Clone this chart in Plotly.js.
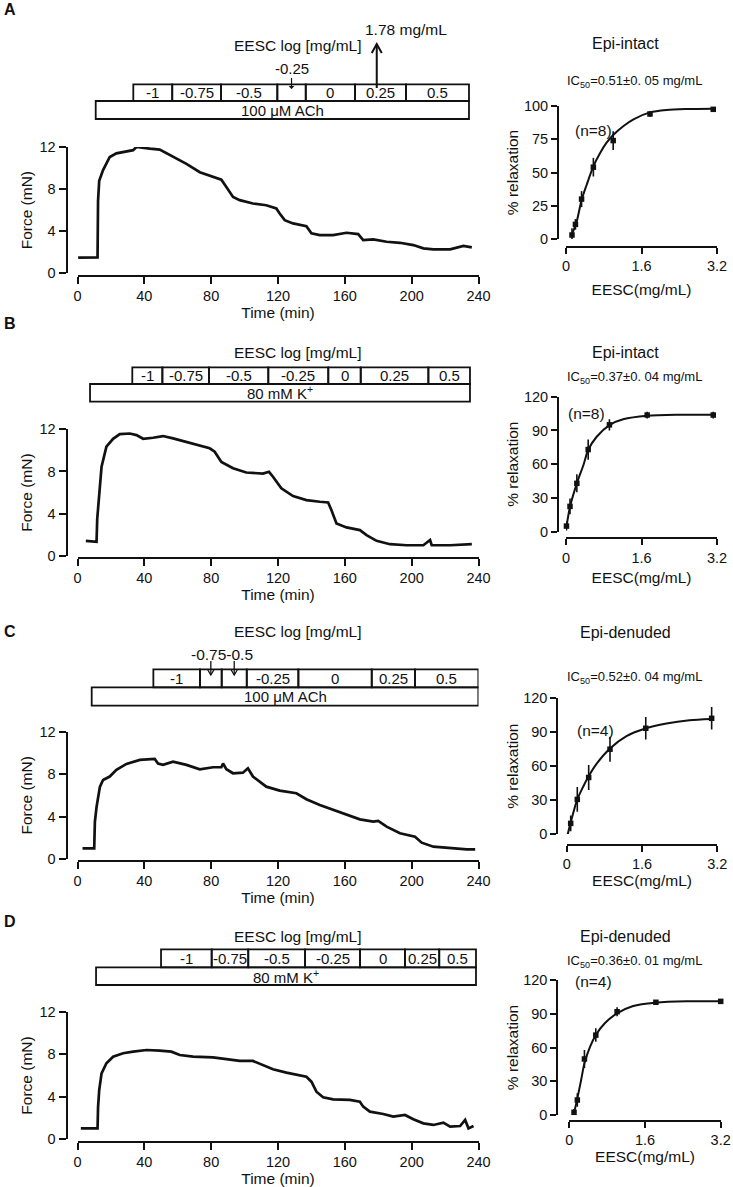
<!DOCTYPE html>
<html><head><meta charset="utf-8">
<script src="https://cdn.plot.ly/plotly-3.0.1.min.js"></script>
<style>html,body{margin:0;padding:0;background:#fff}</style>
</head><body><div id="chart" style="width:733px;height:1187px"></div>
<script>
// ---------- DATA ----------
const timeTicks = [0, 40, 80, 120, 160, 200, 240];
const forceTicks = [0, 4, 8, 12];
const eescTicks = [0, 1.6, 3.2];
const relaxTicksA = [0, 25, 50, 75, 100];
const relaxTicks = [0, 30, 60, 90, 120];

const timeA = [0.4,12,12.3,13,15.3,19.3,23.3,29.3,33.3,35.3,37.3,43.3,49.2,57.2,65.2,73.2,81.1,86.1,89.1,93.1,97.1,105,113,119,121,124,129,137,140,145,153,161,168,171,177,185,193,201,207,213,223,231,236];
const forceA = [1.48,1.5,6.9,8.8,9.8,11.05,11.4,11.6,11.7,12.0,11.95,11.84,11.75,11.05,10.4,9.6,9.16,8.9,8.2,7.26,6.95,6.63,6.47,6.16,5.68,5.05,4.74,4.48,3.8,3.63,3.63,3.85,3.73,3.16,3.22,3.0,2.9,2.68,2.37,2.27,2.27,2.6,2.46];
const timeB = [5,11.4,11.8,12.8,14.4,17.3,21.3,25.3,31.3,35.3,39.3,45.2,51.2,57.2,65.2,73.2,79.1,82.1,86.1,93.1,101,111,114.6,117,122,129,137,145,150,152,155,161,169,173,179,187,197,207,211,212,223,236];
const forceB = [1.42,1.33,3.5,5.6,8.45,10.35,11.1,11.55,11.6,11.45,11.1,11.2,11.36,11.14,10.8,10.5,10.2,9.87,8.9,8.3,7.9,7.8,7.97,7.5,6.4,5.66,5.28,5.13,5.06,4.33,3.07,2.69,2.44,1.96,1.42,1.1,1.0,1.0,1.5,1.0,1.0,1.1];
const timeC = [3,10,10.4,11.4,13.4,15.3,19.3,23.3,29.3,37.3,46.2,48.2,51.2,57.2,65.2,73.2,81.1,86.1,87.1,89.1,93.1,99,102,105,113,121,131,137,145,153,161,169,177,180,185,193,202,206,213,223,233,238];
const forceC = [1.0,1.0,3.5,4.9,6.8,7.45,7.77,8.4,8.96,9.34,9.43,9.0,8.87,9.18,8.87,8.46,8.65,8.65,9.0,8.46,8.08,8.14,8.55,7.77,6.82,6.45,6.2,5.63,5.09,4.62,4.15,3.74,3.52,3.6,3.05,2.42,2.1,1.54,1.16,1.0,0.9,0.9];
const timeD = [2,12,12.3,13,14.4,17.3,21.3,27.3,33.3,41.3,49.2,56.2,61.2,69.2,81.1,89.1,97.1,105,111,117,125,131,137,140,143,147,153,163,169,171,175,183,189,196,201,207,213,219,223,229,232,234,237];
const forceD = [1.03,1.03,3.0,4.64,6.2,7.15,7.77,8.09,8.24,8.4,8.34,8.24,7.93,7.77,7.71,7.52,7.37,7.37,6.99,6.58,6.27,6.05,5.89,5.42,4.48,3.95,3.76,3.7,3.54,3.07,2.6,2.38,2.13,2.29,1.88,1.5,1.35,1.57,1.19,1.25,1.82,1.03,1.25];

const concA = [0.127,0.2,0.33,0.58,1.0,1.78,3.12];
const relaxA = [3,11,30,54,74,94,97.5];
const errA = [5,4,6,7,7,2,1.5];
const fitXA = [0.12,0.226,0.33,0.437,0.578,0.72,0.86,1.0,1.22,1.43,1.78,2.13,2.55,3.12];
const fitYA = [3,13,29.3,40.6,54.4,64.4,72.4,78.2,85,90,95.2,97,97.7,98];

const concB = [0.01,0.085,0.23,0.47,0.92,1.72,3.12];
const relaxB = [5,22.5,43,73,95,103.7,103.7];
const errB = [4,7,8,9,5,3,3];
const fitXB = [0.01,0.085,0.23,0.37,0.47,0.65,0.92,1.21,1.72,2.41,3.12];
const fitYB = [4.4,22.2,43,59.3,72.6,84.4,94.8,99.9,103.1,104,104];

const concC = [0.013,0.085,0.225,0.467,0.92,1.68,3.08];
const relaxC = [-2,9.4,30.6,50,75,93.5,102.3];
const errC = [3,7,11,11,11,10,10];
const fitXC = [0.01,0.08,0.22,0.35,0.46,0.63,0.92,1.27,1.67,2.12,2.61,3.07];
const fitYC = [-2.4,9.4,30,41.8,50.6,61.8,75.6,86.5,93.3,97.7,100.6,101.8];

const concD = [0.1,0.17,0.32,0.56,1.01,1.83,3.2];
const relaxD = [2.4,13.3,49.8,71,91.8,100.2,101];
const errD = [3,6,8,6,4,2,1];
const fitXD = [0.1,0.17,0.25,0.32,0.44,0.56,0.75,1.01,1.35,1.82,2.48,3.2];
const fitYD = [1.5,14.8,31.1,45.9,60.7,71.1,81.5,90.4,96.9,99.8,101,101];

// protocol boxes (time, min)
const dosesA = [33.4,56.7,85.9,119.6,136.6,166.1,196.6,234.3];
const dosesB = [32.8,50.8,78.7,114.2,150.1,169.5,210.0,234.9];
const dosesC = [45.4,73.3,86.3,101.3,132.2,176.1,202.0,239.9];
const dosesD = [50.0,80.3,102.2,136.2,169.1,196.0,216.5,238.5];
const agonistA = [10.9,234.3];
const agonistB = [7.5,234.9];
const agonistC = [8.5,239.9];
const agonistD = [11.1,238.5];
const doseLabelsA = ['-1','-0.75','-0.5','','0','0.25','0.5'];
const doseLabelsB = ['-1','-0.75','-0.5','-0.25','0','0.25','0.5'];
const doseLabelsC = ['-1','','','-0.25','0','0.25','0.5'];
const doseLabelsD = ['-1','-0.75','-0.5','-0.25','0','0.25','0.5'];
const agonistLabels = ['100 μM ACh','80 mM K<sup>+</sup>','100 μM ACh','80 mM K<sup>+</sup>'];
const panelLetters = ['A','B','C','D'];
const conditionTitles = ['Epi-intact','Epi-intact','Epi-denuded','Epi-denuded'];
const ic50Texts = ['IC<sub>50</sub>=0.51±0. 05 mg/mL','IC<sub>50</sub>=0.37±0. 04 mg/mL','IC<sub>50</sub>=0.52±0. 04 mg/mL','IC<sub>50</sub>=0.36±0. 01 mg/mL'];
const nTexts = ['(n=8)','(n=8)','(n=4)','(n=4)'];

// ---------- LAYOUT HELPERS ----------
const W = 733, H = 1187;
const px = v => v / W;
const py = v => 1 - v / H;
const FONT = 'Liberation Sans, Arial, Helvetica, sans-serif';
const BLACK = '#111';
const MIN_PER_PX = 240 / 401;

const traces = [];
const layout = {
  width: W, height: H,
  margin: {l: 0, r: 0, t: 0, b: 0},
  paper_bgcolor: '#fff', plot_bgcolor: 'rgba(0,0,0,0)',
  showlegend: false, hovermode: false,
  font: {family: FONT, color: BLACK, size: 14},
  shapes: [], annotations: []
};

const leftSpec = [
  {y0: 273.3, y12: 147, xLine: 275.5},
  {y0: 555.8, y12: 429.3, xLine: 558},
  {y0: 859, y12: 731.7, xLine: 861},
  {y0: 1139.3, y12: 1011.7, xLine: 1141.5}
];
const rightSpec = [
  {y0: 239, yTop: 106, yMax: 100, ticks: relaxTicksA, xLine: 246.7, yLine: 558, x0: 566, x1: 717, so: 10},
  {y0: 531.7, yTop: 396.7, yMax: 120, ticks: relaxTicks, xLine: 538.3, yLine: 558, x0: 566, x1: 717, so: 6.5},
  {y0: 834, yTop: 698.3, yMax: 120, ticks: relaxTicks, xLine: 845, yLine: 557.3, x0: 566.7, x1: 717.3, so: 3},
  {y0: 1115, yTop: 980, yMax: 120, ticks: relaxTicks, xLine: 1120.7, yLine: 557.3, x0: 569.3, x1: 720.7, so: 1}
];
const boxY = [[84.3, 101, 119], [367.3, 384, 401.7], [669.3, 687.3, 705.7], [949.3, 967.3, 985]];
const textPos = [
  {letter: 9, eesc: 45, title: 43, ic: 81.7, n: [593, 130]},
  {letter: 323, eesc: 352.7, title: 352, ic: 377.7, n: [586, 413]},
  {letter: 631.7, eesc: 631.7, title: 632.7, ic: 677.3, n: [595, 730]},
  {letter: 921.7, eesc: 936, title: 936, ic: 961, n: [593, 981.7]}
];

const times = [timeA, timeB, timeC, timeD];
const forces = [forceA, forceB, forceC, forceD];
const concs = [concA, concB, concC, concD];
const relaxes = [relaxA, relaxB, relaxC, relaxD];
const errs = [errA, errB, errC, errD];
const fitXs = [fitXA, fitXB, fitXC, fitXD];
const fitYs = [fitYA, fitYB, fitYC, fitYD];
const doses = [dosesA, dosesB, dosesC, dosesD];
const agonists = [agonistA, agonistB, agonistC, agonistD];
const doseLabels = [doseLabelsA, doseLabelsB, doseLabelsC, doseLabelsD];

function axisBase() {
  return {
    showline: true, linewidth: 2, linecolor: BLACK, mirror: false,
    ticks: 'outside', tickwidth: 2, tickcolor: BLACK,
    showgrid: false, zeroline: false, fixedrange: true,
    tickfont: {family: FONT, size: 14.5, color: BLACK},
    anchor: 'free', tickmode: 'array'
  };
}
const titleFont = {family: FONT, size: 15.5, color: BLACK};

for (let i = 0; i < 4; i++) {
  const L = 2 * i + 1, R = 2 * i + 2;
  const lx = L === 1 ? 'x' : 'x' + L, ly = L === 1 ? 'y' : 'y' + L;
  const rx = 'x' + R, ry = 'y' + R;
  const lkx = L === 1 ? 'xaxis' : 'xaxis' + L, lky = L === 1 ? 'yaxis' : 'yaxis' + L;
  const ls = leftSpec[i], rs = rightSpec[i];

  // left: force trace
  layout[lkx] = Object.assign(axisBase(), {
    domain: [px(77.5), px(478.5)], range: [0, 240], position: py(ls.xLine),
    tickvals: timeTicks, ticklen: 7,
    title: {text: 'Time (min)', font: titleFont, standoff: 3}
  });
  layout[lky] = Object.assign(axisBase(), {
    domain: [py(ls.y0), py(ls.y12)], range: [0, 12], position: px(66.5),
    tickvals: forceTicks, ticklen: 7,
    title: {text: 'Force (mN)', font: titleFont, standoff: 2}
  });
  traces.push({
    type: 'scatter', mode: 'lines', x: times[i], y: forces[i], xaxis: lx, yaxis: ly,
    line: {color: BLACK, width: 2.7}
  });

  // right: dose-response
  layout['xaxis' + R] = Object.assign(axisBase(), {
    domain: [px(rs.x0), px(rs.x1)], range: [0, 3.2], position: py(rs.xLine),
    tickvals: eescTicks, ticklen: 6,
    title: {text: 'EESC(mg/mL)', font: titleFont, standoff: rs.so}
  });
  layout['yaxis' + R] = Object.assign(axisBase(), {
    domain: [py(rs.y0), py(rs.yTop)], range: [0, rs.yMax], position: px(rs.yLine),
    tickvals: rs.ticks, ticklen: 6,
    title: {text: '% relaxation', font: titleFont, standoff: 0}
  });
  traces.push({
    type: 'scatter', mode: 'lines', x: fitXs[i], y: fitYs[i], xaxis: rx, yaxis: ry,
    line: {color: BLACK, width: 2, shape: 'spline', smoothing: 0.8}
  });
  traces.push({
    type: 'scatter', mode: 'markers', x: concs[i], y: relaxes[i], xaxis: rx, yaxis: ry,
    cliponaxis: false,
    marker: {symbol: 'square', size: 5.5, color: BLACK},
    error_y: {type: 'data', array: errs[i], visible: true, color: BLACK, thickness: 1.6, width: 0}
  });

  // protocol boxes
  const by = boxY[i], d = doses[i], ag = agonists[i];
  for (let j = 0; j < d.length - 1; j++) {
    layout.shapes.push({type: 'rect', xref: lx, yref: 'paper', x0: d[j], x1: d[j + 1],
      y0: py(by[1]), y1: py(by[0]), line: {color: BLACK, width: 1.8}, fillcolor: 'rgba(0,0,0,0)'});
    if (doseLabels[i][j]) {
      layout.annotations.push({xref: lx, yref: 'paper', x: (d[j] + d[j + 1]) / 2, y: py((by[0] + by[1]) / 2),
        text: doseLabels[i][j], showarrow: false, font: {size: 15}, xanchor: 'center', yanchor: 'middle'});
    }
  }
  layout.shapes.push({type: 'rect', xref: lx, yref: 'paper', x0: ag[0], x1: ag[1],
    y0: py(by[2]), y1: py(by[1]), line: {color: BLACK, width: 1.8}, fillcolor: 'rgba(0,0,0,0)'});
  layout.annotations.push({xref: lx, yref: 'paper', x: (ag[0] + ag[1]) / 2, y: py((by[1] + by[2]) / 2),
    text: agonistLabels[i], showarrow: false, font: {size: 15}, xanchor: 'center', yanchor: 'middle'});

  // texts
  const tp = textPos[i];
  layout.annotations.push({xref: 'paper', yref: 'paper', x: px(2), y: py(tp.letter), text: '<b>' + panelLetters[i] + '</b>',
    showarrow: false, xanchor: 'left', yanchor: 'middle', font: {size: 16}});
  layout.annotations.push({xref: 'paper', yref: 'paper', x: px(298), y: py(tp.eesc), text: 'EESC log [mg/mL]',
    showarrow: false, xanchor: 'center', yanchor: 'middle', font: {size: 15.5}});
  layout.annotations.push({xref: 'paper', yref: 'paper', x: px(625), y: py(tp.title), text: conditionTitles[i],
    showarrow: false, xanchor: 'center', yanchor: 'middle', font: {size: 16}});
  layout.annotations.push({xref: 'paper', yref: 'paper', x: px(634), y: py(tp.ic), text: ic50Texts[i],
    showarrow: false, xanchor: 'center', yanchor: 'middle', font: {size: 13}});
  layout.annotations.push({xref: 'paper', yref: 'paper', x: px(tp.n[0]), y: py(tp.n[1]), text: nTexts[i],
    showarrow: false, xanchor: 'center', yanchor: 'middle', font: {size: 15.5}});
}

// arrows
layout.annotations.push({xref: 'x', yref: 'paper', x: (dosesA[3] + dosesA[4]) / 2, y: py(89), text: '-0.25',
  showarrow: true, arrowhead: 1, arrowsize: 0.8, arrowwidth: 1.2, arrowcolor: BLACK, ax: 0, ay: -21, font: {size: 15}});
layout.annotations.push({xref: 'paper', yref: 'paper', x: px(406), y: py(29), text: '1.78 mg/mL',
  showarrow: false, xanchor: 'center', yanchor: 'middle', font: {size: 15.5}});
layout.annotations.push({xref: 'paper', yref: 'paper', x: px(221.7), y: py(654), text: '-0.75-0.5',
  showarrow: false, xanchor: 'center', yanchor: 'middle', font: {size: 15.5}});

// arrow shafts + heads as shapes (time on x, paper on y)
function arrowShape(xref, xt, yTail, yTip, halfW, headH, w) {
  const dir = yTip < yTail ? 1 : -1; // 1 = pointing up on screen
  layout.shapes.push({type: 'line', xref: xref, yref: 'paper', x0: xt, x1: xt, y0: py(yTail), y1: py(yTip),
    line: {color: BLACK, width: w}});
  const hx = halfW * MIN_PER_PX;
  layout.shapes.push({type: 'path', xref: xref, yref: 'paper',
    path: `M ${xt - hx},${py(yTip + dir * headH)} L ${xt},${py(yTip)} L ${xt + hx},${py(yTip + dir * headH)}`,
    line: {color: BLACK, width: w}});
}
arrowShape('x', 179.1, 88, 44, 5, 9, 2);
arrowShape('x5', (dosesC[1] + dosesC[2]) / 2, 661, 675, 3, 5, 1.3);
arrowShape('x5', (dosesC[2] + dosesC[3]) / 2, 661, 675, 3, 5, 1.3);

Plotly.newPlot('chart', traces, layout, {displayModeBar: false, staticPlot: true});
</script></body></html>
